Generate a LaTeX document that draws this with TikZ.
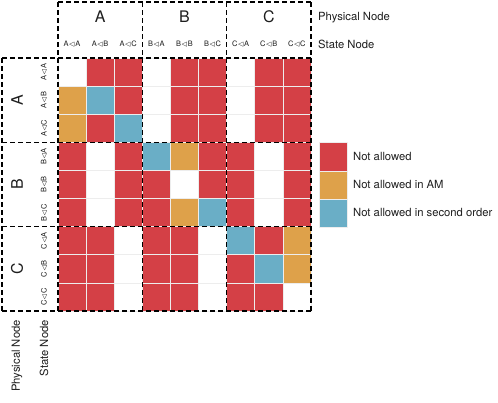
\documentclass[tikz,border=0pt]{standalone}
\usepackage{amssymb}
\usepackage{fontspec}
\setmainfont{TeX Gyre Heros}
\definecolor{cR}{RGB}{212,64,70}
\definecolor{cO}{RGB}{222,161,74}
\definecolor{cB}{RGB}{106,174,198}
\definecolor{cW}{RGB}{255,255,255}
\definecolor{ink}{RGB}{30,30,30}

\begin{document}
\begin{tikzpicture}[x=1bp, y=1bp, line join=round, text=ink,
	cell/.style={draw=black!7, line width=0.6bp},
	blockline/.style={draw=black, line width=1.5bp, dash pattern=on 5bp off 3bp},
	bigletter/.style={font=\fontsize{16}{18}\selectfont},
	statelabel/.style={font=\fontsize{7.5}{9}\selectfont, inner sep=0pt},
	sidelabel/.style={font=\fontsize{11.3}{13}\selectfont, inner sep=0pt}]
	\def \c{28.1} \def \x{58} \def \y{58}
	\useasboundingbox (0,0) rectangle (498,-402);
	% matrix of cells
	\foreach \row [count=\i] in {{W,R,R,W,R,R,W,R,R},{O,B,R,W,R,R,W,R,R},{O,R,B,W,R,R,W,R,R},
		{R,W,R,B,O,R,R,W,R},{R,W,R,R,W,R,R,W,R},{R,W,R,R,O,B,R,W,R},
		{R,R,W,R,R,W,B,R,O},{R,R,W,R,R,W,R,B,O},{R,R,W,R,R,W,R,R,W}}
		\foreach \v [count=\j] in \row
			\filldraw[cell, fill=c\v] ({\x+(\j-1)*\c},{-\y-(\i-1)*\c}) rectangle ++(\c,-\c);
	% dashed block lines
	\coordinate (corner) at ({\x+9*\c},{-\y-9*\c});
	\draw[blockline] (\x,-2) -- ({\x+9*\c},-2);
	\draw[blockline] (2,{-\y-9*\c}) -- (2,-\y);
	\foreach \k in {0,1,2,3} {
		\draw[blockline] (2,{-\y-3*\k*\c}) -- ({\x+9*\c},{-\y-3*\k*\c});
		\draw[blockline] ({\x+3*\k*\c},-2) -- ({\x+3*\k*\c},{-\y-9*\c});
	}
	% labels
	\foreach \n [count=\k from 0] in {A,B,C} {
		\node[bigletter] (top\n) at ({\x+(3*\k+1.5)*\c},-17) {\n};
		\node[bigletter, rotate=90] (left\n) at (17,{-\y-(3*\k+1.5)*\c}) {\n};
		\foreach \s [count=\m from 0] in {A,B,C} {
			\node[statelabel] (top\n\s) at ({\x+(3*\k+\m+0.5)*\c},-44) {\n$\lhd$\s};
			\node[statelabel, rotate=90] (left\n\s) at (44,{-\y-(3*\k+\m+0.5)*\c}) {\n$\lhd$\s};
		}
	}
	\node[sidelabel, anchor=west] (physTop) at (318,-18) {Physical Node};
	\node[sidelabel, anchor=west] (stateTop) at (318,-44) {State Node};
	\node[sidelabel, anchor=east, rotate=90] (physLeft) at (17,-320) {Physical Node};
	\node[sidelabel, anchor=east, rotate=90] (stateLeft) at (44,-320) {State Node};
	% legend
	\foreach \v/\t [count=\i from 0] in {R/Not allowed, O/Not allowed in AM, B/Not allowed in second order} {
		\filldraw[cell, fill=c\v] (319,{-142.7-\i*\c}) rectangle ++(\c,-\c);
		\node[sidelabel, anchor=west] (leg\v) at (353,{-142.7-(\i+0.5)*\c}) {\t};
	}
\end{tikzpicture}
\end{document}
